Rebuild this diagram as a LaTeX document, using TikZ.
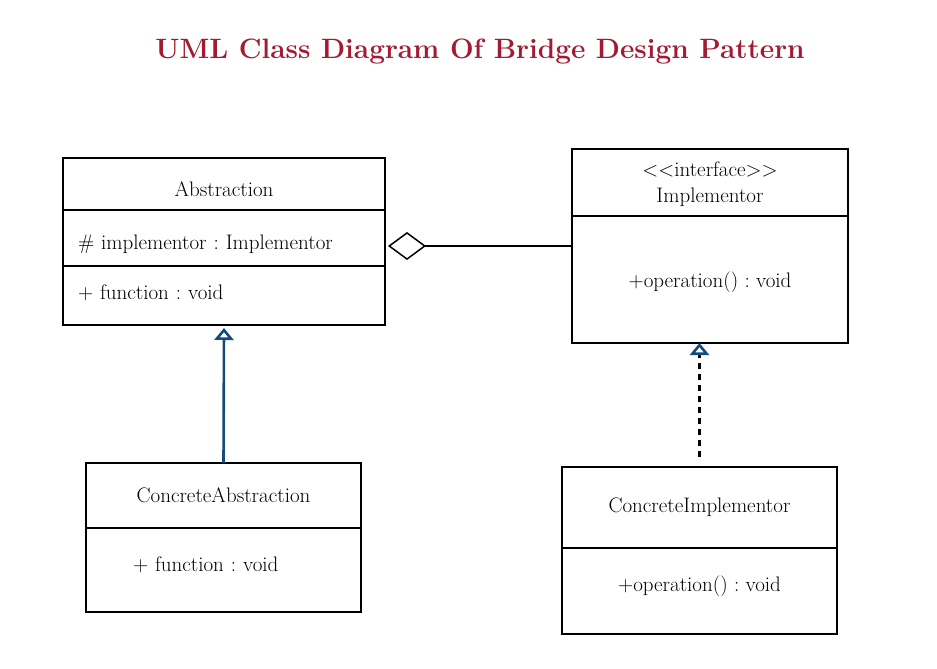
\documentclass[tikz,border=0pt]{standalone}
\usetikzlibrary{arrows.meta,positioning,calc}
\definecolor{titlered}{RGB}{163,27,50}
\definecolor{umlblue}{RGB}{22,74,124}
\frenchspacing
\tikzset{
  box/.style     = {draw, line width=1.2pt, outer sep=0pt, inner sep=0pt, font=\fontsize{21}{26}\selectfont},
  head/.style    = {box, align=center},
  field/.style   = {box, align=left},
  textbox/.style 2 args = {text height=#1, text depth=#2},
  title/.style   = {font=\fontsize{28}{32}\selectfont\bfseries, text=titlered},
  extends/.style = {umlblue, line width=2.6pt, -{Triangle[open, length=12pt, width=19pt, fill=white]}},
  realizes/.style = {black, line width=3pt, dash pattern=on 6pt off 5pt,
      -{Triangle[open, length=12pt, width=19pt, umlblue, line width=2.6pt, fill=white]}},
  aggregation/.style = {line width=1.5pt, -{Diamond[open, length=38pt, width=28pt, fill=white]}}
}

\begin{document}
\begin{tikzpicture}[x=1pt, y=-1pt]

\fill[white] (0,0) rectangle (937,669);
\useasboundingbox (0,0) rectangle (937,669);

% title
\node[title] (title) at (480,52) {UML Class Diagram Of Bridge Design Pattern};

% Abstraction class
\node[head, minimum width=322pt, minimum height=52pt, textbox={24.6pt}{0pt}] (abs) at (224,184) {Abstraction};
\node[field, below=0pt of abs, text width=292pt, inner xsep=15pt, minimum height=56pt,
  textbox={26.6pt}{4.1pt}] (abs-attr) {\# implementor : Implementor};
\node[field, below=0pt of abs-attr, text width=292pt, inner xsep=15pt, minimum height=59pt,
  textbox={14.8pt}{7.7pt}] (abs-ops) {+ function : void};

% Implementor interface
\node[head, minimum width=276pt, minimum height=67pt, textbox={44.8pt}{4.1pt}] (impl) at (710,182.5)
  {\textless{}\kern0pt\textless{}interface\textgreater{}\kern0pt\textgreater{}\\Implementor};
\node[head, below=0pt of impl, minimum width=276pt, minimum height=127pt,
  textbox={21.75pt}{5.25pt}] (impl-body) {+operation() : void};

% ConcreteAbstraction class
\node[head, minimum width=275pt, minimum height=65pt] (cabs) at (223.5,495.5) {ConcreteAbstraction};
\node[field, below=0pt of cabs, text width=181pt, inner xsep=47pt, minimum height=84pt,
  textbox={14.8pt}{11.7pt}] (cabs-ops) {+ function : void};

% ConcreteImplementor class
\node[head, minimum width=275pt, minimum height=81pt] (cimp) at (699.5,507.5) {ConcreteImplementor};
\node[head, below=0pt of cimp, minimum width=275pt, minimum height=86pt,
  textbox={15.75pt}{15.25pt}] (cimp-ops) {+operation() : void};

% relations
\coordinate (agg) at ($(abs-attr.east)+(3,8)$);
\draw[aggregation] (impl-body.west |- agg) -- (agg);
\draw[extends] (cabs.north) -- ($(abs-ops.south)+(0,3)$);
\draw[realizes] ($(cimp.north)+(0,-10)$) -- (cimp.north |- impl-body.south);

\end{tikzpicture}
\end{document}
